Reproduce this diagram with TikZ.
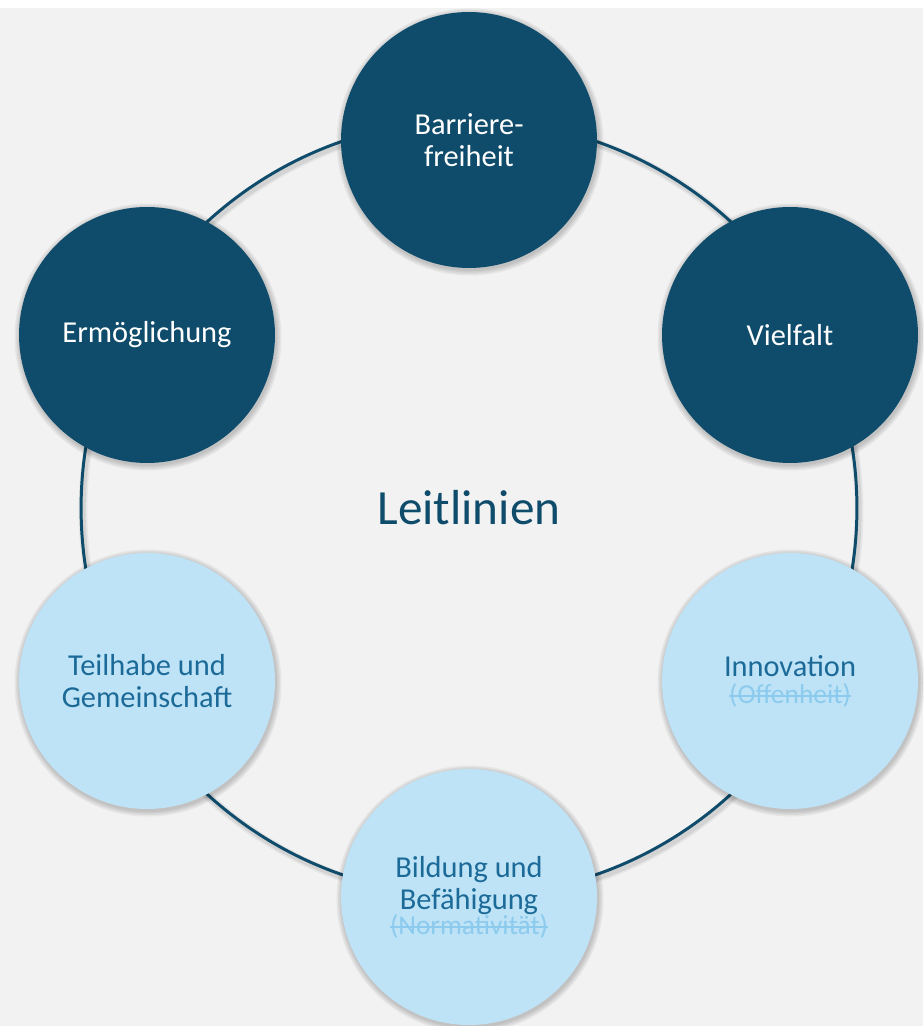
\documentclass[tikz,border=0pt]{standalone}
\usepackage{fontspec}
\setmainfont{Carlito}

\definecolor{leitdark}{HTML}{0F4C6B}
\definecolor{leitlight}{HTML}{BEE3F6}
\definecolor{leittext}{HTML}{1B6A98}
\definecolor{leitstrike}{HTML}{8CCBEE}
\definecolor{leitback}{HTML}{F2F2F2}

\newsavebox{\strichbox}
\newcommand{\gestrichen}[1]{{\color{leitstrike}\fontsize{15.6}{16}\selectfont
  \sbox{\strichbox}{#1}\rlap{\rule[0.5ex]{\wd\strichbox}{0.9pt}}\usebox{\strichbox}}}

\begin{document}
\begin{tikzpicture}[x=0.02cm,y=-0.02cm,
  ring/.style={circle,draw=leitdark,line width=1.7pt,minimum size=15.52cm,
    inner sep=0pt,text=leitdark,font=\fontsize{28}{30}\selectfont},
  darkdot/.style={circle,fill=leitdark,minimum size=5.12cm,inner sep=0pt,
    align=center,text=white,font=\fontsize{17.3}{18.3}\selectfont},
  lightdot/.style={darkdot,fill=leitlight,text=leittext}]
  \useasboundingbox (0,0) rectangle (923,1026);
  \fill[white] (0,0) rectangle (923,1026);
  \fill[leitback] (0,8) rectangle (923,1026);

  % ring with its shadow
  \draw[black,opacity=0.05,line width=5pt] (471,511) circle (388);
  \draw[black,opacity=0.08,line width=3pt] (471,511) circle (388);
  \node[ring] (leit) at (469,508) {Leitlinien};

  % soft shadows under the six circles
  \foreach \cx/\cy in {469/140,790/335,790/681,469/897,147/681,147/335}
    \foreach \r in {129,130.5,132,133.5}
      \fill[black,opacity=0.05] (\cx+1,\cy+2) circle (\r);

  \node[darkdot] (barr) at (469,140) {Barriere-\\freiheit};
  \node[darkdot] (viel) at (790,335) {Vielfalt};
  \node[lightdot] (inno) at (790,681) {Innovation\\[-3pt]\gestrichen{(Offenheit)}};
  \node[lightdot] (bild) at (469,897) {Bildung und\\Befähigung\\[-4pt]\gestrichen{(Normativität)}};
  \node[lightdot] (teil) at (147,681) {Teilhabe und\\Gemeinschaft};
  \node[darkdot] (ermo) at (147,335) {Ermöglichung};
\end{tikzpicture}
\end{document}
